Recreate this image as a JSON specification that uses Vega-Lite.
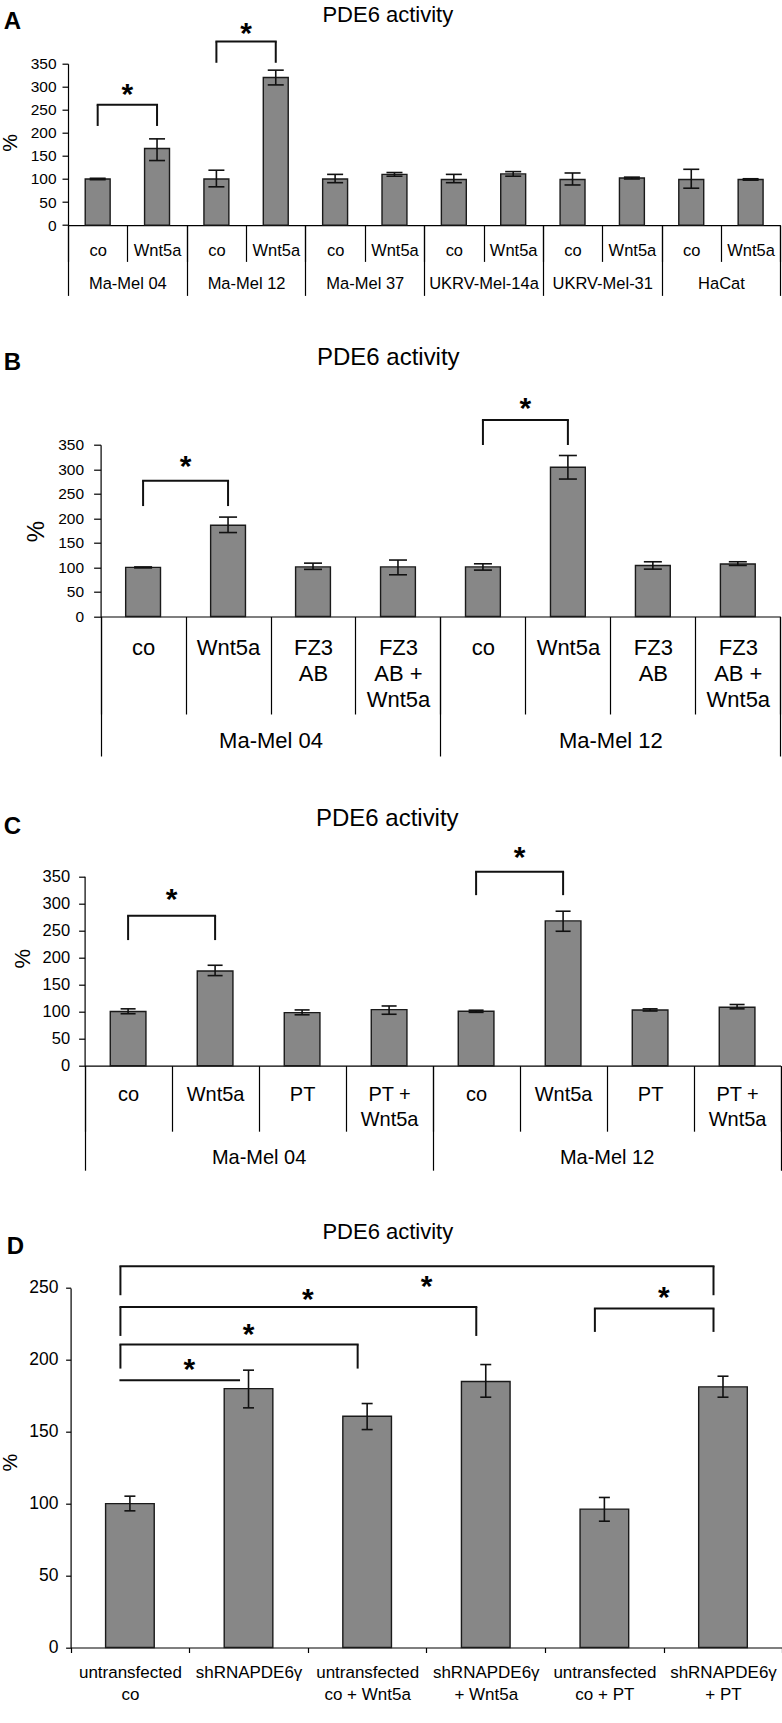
{
"$schema": "https://vega.github.io/schema/vega-lite/v6.json",
"background": "white",
"padding": {"left": 0, "top": 2.7, "right": 0, "bottom": 0},
"config": {
  "view": {"stroke": null},
  "font": "Liberation Sans",
  "axis": {"grid": false, "labelColor": "black", "titleColor": "black", "domainColor": "black", "tickColor": "black", "domainWidth": 1.2, "tickWidth": 1.2, "labelFont": "Liberation Sans", "titleFont": "Liberation Sans", "titleFontWeight": "normal"},
  "axisY": {"labelOverlap": false}
},
"datasets": {
  "barsA": [
    {"id": "Ma-Mel 04|co", "v": 100, "lo": 98.5, "hi": 101.5},
    {"id": "Ma-Mel 04|Wnt5a", "v": 166, "lo": 140, "hi": 187},
    {"id": "Ma-Mel 12|co", "v": 100, "lo": 83, "hi": 119},
    {"id": "Ma-Mel 12|Wnt5a", "v": 320, "lo": 304, "hi": 336},
    {"id": "Ma-Mel 37|co", "v": 100, "lo": 92, "hi": 110},
    {"id": "Ma-Mel 37|Wnt5a", "v": 110, "lo": 106, "hi": 114},
    {"id": "UKRV-Mel-14a|co", "v": 99, "lo": 92, "hi": 110},
    {"id": "UKRV-Mel-14a|Wnt5a", "v": 111, "lo": 106, "hi": 116},
    {"id": "UKRV-Mel-31|co", "v": 99, "lo": 87, "hi": 113},
    {"id": "UKRV-Mel-31|Wnt5a", "v": 102, "lo": 100, "hi": 104},
    {"id": "HaCat|co", "v": 99, "lo": 80, "hi": 121},
    {"id": "HaCat|Wnt5a", "v": 99, "lo": 97.5, "hi": 100.5}
  ],
  "brA": [
    {"from": "Ma-Mel 04|co", "to": "Ma-Mel 04|Wnt5a", "top": 261, "lo1": 215, "lo2": 215},
    {"from": "Ma-Mel 12|co", "to": "Ma-Mel 12|Wnt5a", "top": 398, "lo1": 352, "lo2": 352}
  ],
  "starsA": [
    {"g": "Ma-Mel 04", "y": 300},
    {"g": "Ma-Mel 12", "y": 432}
  ],
  "barsB": [
    {"id": "Ma-Mel 04|co", "v": 100, "lo": 99, "hi": 101},
    {"id": "Ma-Mel 04|Wnt5a", "v": 186, "lo": 171, "hi": 202.5},
    {"id": "Ma-Mel 04|FZ3 AB", "v": 101, "lo": 96, "hi": 108.7},
    {"id": "Ma-Mel 04|FZ3 AB + Wnt5a", "v": 101, "lo": 85, "hi": 115},
    {"id": "Ma-Mel 12|co", "v": 101, "lo": 94.5, "hi": 107.4},
    {"id": "Ma-Mel 12|Wnt5a", "v": 304, "lo": 280, "hi": 328},
    {"id": "Ma-Mel 12|FZ3 AB", "v": 104, "lo": 96.5, "hi": 111.5},
    {"id": "Ma-Mel 12|FZ3 AB + Wnt5a", "v": 107, "lo": 104, "hi": 111.5}
  ],
  "brB": [
    {"from": "Ma-Mel 04|co", "to": "Ma-Mel 04|Wnt5a", "top": 276.6, "lo1": 225, "lo2": 225},
    {"from": "Ma-Mel 12|co", "to": "Ma-Mel 12|Wnt5a", "top": 400.3, "lo1": 349.4, "lo2": 349.4}
  ],
  "starsB": [
    {"g": "Ma-Mel 04", "y": 320},
    {"g": "Ma-Mel 12", "y": 439.7}
  ],
  "barsC": [
    {"id": "Ma-Mel 04|co", "v": 100, "lo": 96, "hi": 105},
    {"id": "Ma-Mel 04|Wnt5a", "v": 175, "lo": 166.4, "hi": 185.5},
    {"id": "Ma-Mel 04|PT", "v": 98, "lo": 94, "hi": 103},
    {"id": "Ma-Mel 04|PT + Wnt5a", "v": 103.5, "lo": 95, "hi": 110.3},
    {"id": "Ma-Mel 12|co", "v": 100.5, "lo": 98.5, "hi": 102.5},
    {"id": "Ma-Mel 12|Wnt5a", "v": 267.4, "lo": 248.3, "hi": 285.3},
    {"id": "Ma-Mel 12|PT", "v": 103, "lo": 101, "hi": 105},
    {"id": "Ma-Mel 12|PT + Wnt5a", "v": 108, "lo": 105, "hi": 113}
  ],
  "brC": [
    {"from": "Ma-Mel 04|co", "to": "Ma-Mel 04|Wnt5a", "top": 276.9, "lo1": 232, "lo2": 232},
    {"from": "Ma-Mel 12|co", "to": "Ma-Mel 12|Wnt5a", "top": 358.2, "lo1": 315, "lo2": 315}
  ],
  "starsC": [
    {"g": "Ma-Mel 04", "y": 321},
    {"g": "Ma-Mel 12", "y": 398}
  ],
  "barsD": [
    {"id": "untransfected co", "v": 100, "lo": 95, "hi": 105.2},
    {"id": "shRNAPDE6γ", "v": 180, "lo": 166.6, "hi": 192.8},
    {"id": "untransfected co + Wnt5a", "v": 160.8, "lo": 151.5, "hi": 169.6},
    {"id": "shRNAPDE6γ + Wnt5a", "v": 184.9, "lo": 174, "hi": 196.7},
    {"id": "untransfected co + PT", "v": 96.2, "lo": 87.8, "hi": 104.3},
    {"id": "shRNAPDE6γ + PT", "v": 181.2, "lo": 174, "hi": 188.6}
  ],
  "brD": [
    {"from": "untransfected co", "to": "shRNAPDE6γ", "top": 185.8, "lo1": 185.8, "lo2": 185.8},
    {"from": "untransfected co", "to": "untransfected co + Wnt5a", "top": 210.6, "lo1": 193.9, "lo2": 193.9},
    {"from": "untransfected co", "to": "shRNAPDE6γ + Wnt5a", "top": 236.8, "lo1": 216.6, "lo2": 216.6},
    {"from": "untransfected co", "to": "shRNAPDE6γ + PT", "top": 265, "lo1": 244.9, "lo2": 244.9},
    {"from": "untransfected co + PT", "to": "shRNAPDE6γ + PT", "top": 235.6, "lo1": 219.4, "lo2": 219.4}
  ],
  "starsDedge": [
    {"id": "shRNAPDE6γ", "y": 198.6},
    {"id": "untransfected co + Wnt5a", "y": 247.2},
    {"id": "shRNAPDE6γ + Wnt5a", "y": 256.5},
    {"id": "shRNAPDE6γ + PT", "y": 248.4}
  ],
  "starsDmid": [
    {"id": "shRNAPDE6γ", "y": 222.9}
  ]
},
"spacing": 219,
"bounds": "flush",
"vconcat": [
{
  "width": 712.3, "height": 161.4,
  "resolve": {"scale": {"x": "independent"}},
  "layer": [
    {"layer": [
      {"data": {"name": "barsA"},
       "mark": {"type": "bar", "width": {"band": 0.42}, "fill": "#878787", "stroke": "#1a1a1a", "strokeWidth": 1.4, "opacity": 1},
       "encoding": {
         "x": {"field": "id", "type": "nominal", "scale": {"domain": ["Ma-Mel 04|co","Ma-Mel 04|Wnt5a","Ma-Mel 12|co","Ma-Mel 12|Wnt5a","Ma-Mel 37|co","Ma-Mel 37|Wnt5a","UKRV-Mel-14a|co","UKRV-Mel-14a|Wnt5a","UKRV-Mel-31|co","UKRV-Mel-31|Wnt5a","HaCat|co","HaCat|Wnt5a"], "range": [0, 712.3], "paddingInner": 0, "paddingOuter": 0},
               "axis": {"orient": "top", "domain": false, "ticks": false, "labels": false, "title": "PDE6 activity", "titleFontSize": 22, "titleX": 319.3, "titleY": -42.6, "titleAlign": "center", "titleBaseline": "alphabetic", "titleAngle": 0}},
         "y": {"field": "v", "type": "quantitative", "scale": {"domain": [0, 350], "nice": false},
               "axis": {"values": [0,50,100,150,200,250,300,350], "labelOverlap": false, "tickSize": 6, "labelPadding": 6, "labelFontSize": 15.5, "title": "%", "titleFontSize": 20, "titleAngle": 270, "titleBaseline": "bottom", "titleAlign": "center", "titleX": -47.5, "titleY": 78.7}}
       }},
      {"data": {"name": "brA"},
       "mark": {"type": "rule", "color": "#111", "strokeWidth": 2, "strokeCap": "square"},
       "encoding": {
         "x": {"field": "from", "type": "nominal", "scale": {"domain": ["Ma-Mel 04|co","Ma-Mel 04|Wnt5a","Ma-Mel 12|co","Ma-Mel 12|Wnt5a","Ma-Mel 37|co","Ma-Mel 37|Wnt5a","UKRV-Mel-14a|co","UKRV-Mel-14a|Wnt5a","UKRV-Mel-31|co","UKRV-Mel-31|Wnt5a","HaCat|co","HaCat|Wnt5a"]}},
         "x2": {"field": "to"},
         "y": {"field": "top", "type": "quantitative", "axis": {"values": [0,50,100,150,200,250,300,350], "labelOverlap": false, "tickSize": 6, "labelPadding": 6, "labelFontSize": 15.5}}
       }},
      {"data": {"name": "brA"},
       "mark": {"type": "rule", "color": "#111", "strokeWidth": 2},
       "encoding": {
         "x": {"field": "from", "type": "nominal"},
         "y": {"field": "lo1", "type": "quantitative", "axis": {"values": [0,50,100,150,200,250,300,350], "labelOverlap": false, "tickSize": 6, "labelPadding": 6, "labelFontSize": 15.5}},
         "y2": {"field": "top"}
       }},
      {"data": {"name": "brA"},
       "mark": {"type": "rule", "color": "#111", "strokeWidth": 2},
       "encoding": {
         "x": {"field": "to", "type": "nominal"},
         "y": {"field": "lo2", "type": "quantitative", "axis": {"values": [0,50,100,150,200,250,300,350], "labelOverlap": false, "tickSize": 6, "labelPadding": 6, "labelFontSize": 15.5}},
         "y2": {"field": "top"}
       }}
    ]},
    {"data": {"name": "barsA"},
     "encoding": {"x": {"field": "id", "type": "nominal", "scale": {"domain": ["Ma-Mel 04|co","Ma-Mel 04|Wnt5a","Ma-Mel 12|co","Ma-Mel 12|Wnt5a","Ma-Mel 37|co","Ma-Mel 37|Wnt5a","UKRV-Mel-14a|co","UKRV-Mel-14a|Wnt5a","UKRV-Mel-31|co","UKRV-Mel-31|Wnt5a","HaCat|co","HaCat|Wnt5a"], "range": [0, 712.3], "paddingInner": 0, "paddingOuter": 0},
            "axis": {"orient": "bottom", "title": null, "tickBand": "extent", "tickSize": 36.3, "labelPadding": -19, "labelFontSize": 16.5, "labelAngle": 0, "labelOverlap": false, "labelBound": false, "labelExpr": "isValid(datum.value) ? split(replace(replace(split(datum.value, '|')[1], 'FZ3 ', 'FZ3|'), ' + ', ' +|'), '|') : ''"}}},
     "layer": [
       {"mark": {"type": "rule", "color": "#111", "strokeWidth": 1.6}, "encoding": {"y": {"field": "lo", "type": "quantitative", "axis": {"values": [0,50,100,150,200,250,300,350], "labelOverlap": false, "tickSize": 6, "labelPadding": 6, "labelFontSize": 15.5}}, "y2": {"field": "hi"}}},
       {"mark": {"type": "tick", "orient": "horizontal", "size": 16, "thickness": 1.6, "color": "#111", "opacity": 1}, "encoding": {"y": {"field": "hi", "type": "quantitative", "axis": {"values": [0,50,100,150,200,250,300,350], "labelOverlap": false, "tickSize": 6, "labelPadding": 6, "labelFontSize": 15.5}}}},
       {"mark": {"type": "tick", "orient": "horizontal", "size": 16, "thickness": 1.6, "color": "#111", "opacity": 1}, "encoding": {"y": {"field": "lo", "type": "quantitative", "axis": {"values": [0,50,100,150,200,250,300,350], "labelOverlap": false, "tickSize": 6, "labelPadding": 6, "labelFontSize": 15.5}}}}
     ]},
    {"data": {"name": "starsA"},
     "mark": {"type": "text", "text": "*", "fontSize": 30, "fontWeight": "bold", "dy": 17, "baseline": "alphabetic", "align": "center", "color": "black"},
     "encoding": {
       "x": {"field": "g", "type": "nominal", "bandPosition": 0.5, "scale": {"domain": ["Ma-Mel 04","Ma-Mel 12","Ma-Mel 37","UKRV-Mel-14a","UKRV-Mel-31","HaCat"], "range": [0, 712.3], "paddingInner": 0, "paddingOuter": 0},
             "axis": {"orient": "bottom", "domain": false, "tickBand": "extent", "tickSize": 70.3, "labelPadding": -19.4, "labelFontSize": 16.5, "labelAngle": 0, "labelOverlap": false, "labelBound": false,
                      "title": "A", "titleFontSize": 24, "titleFontWeight": "bold", "titleX": -64.7, "titleY": -196.7, "titleAlign": "left", "titleBaseline": "alphabetic", "titleAngle": 0}},
       "y": {"field": "y", "type": "quantitative", "axis": {"values": [0,50,100,150,200,250,300,350], "labelOverlap": false, "tickSize": 6, "labelPadding": 6, "labelFontSize": 15.5}}
     }}
  ]
},
{
  "width": 712.3, "height": 171.8,
  "resolve": {"scale": {"x": "independent"}},
  "layer": [
    {"layer": [
      {"data": {"name": "barsB"},
       "mark": {"type": "bar", "width": {"band": 0.41}, "fill": "#878787", "stroke": "#1a1a1a", "strokeWidth": 1.4, "opacity": 1},
       "encoding": {
         "x": {"field": "id", "type": "nominal", "scale": {"domain": ["Ma-Mel 04|co","Ma-Mel 04|Wnt5a","Ma-Mel 04|FZ3 AB","Ma-Mel 04|FZ3 AB + Wnt5a","Ma-Mel 12|co","Ma-Mel 12|Wnt5a","Ma-Mel 12|FZ3 AB","Ma-Mel 12|FZ3 AB + Wnt5a"], "range": [32.6, 712.3], "paddingInner": 0, "paddingOuter": 0},
               "axis": {"orient": "top", "domain": false, "ticks": false, "labels": false, "title": "PDE6 activity", "titleFontSize": 24, "titleX": 319.8, "titleY": -79.7, "titleAlign": "center", "titleBaseline": "alphabetic", "titleAngle": 0}},
         "y": {"field": "v", "type": "quantitative", "scale": {"domain": [0, 350], "nice": false},
               "axis": {"offset": -32.6, "values": [0,50,100,150,200,250,300,350], "labelOverlap": false, "tickSize": 7, "labelPadding": 10, "labelFontSize": 15.5, "title": "%", "titleFontSize": 24, "titleAngle": 270, "titleBaseline": "bottom", "titleAlign": "center", "titleX": -52.6, "titleY": 86.3}}
       }},
      {"data": {"name": "brB"},
       "mark": {"type": "rule", "color": "#111", "strokeWidth": 2, "strokeCap": "square"},
       "encoding": {
         "x": {"field": "from", "type": "nominal", "scale": {"domain": ["Ma-Mel 04|co","Ma-Mel 04|Wnt5a","Ma-Mel 04|FZ3 AB","Ma-Mel 04|FZ3 AB + Wnt5a","Ma-Mel 12|co","Ma-Mel 12|Wnt5a","Ma-Mel 12|FZ3 AB","Ma-Mel 12|FZ3 AB + Wnt5a"]}},
         "x2": {"field": "to"},
         "y": {"field": "top", "type": "quantitative", "axis": {"offset": -32.6, "values": [0,50,100,150,200,250,300,350], "labelOverlap": false, "tickSize": 7, "labelPadding": 10, "labelFontSize": 15.5}}
       }},
      {"data": {"name": "brB"},
       "mark": {"type": "rule", "color": "#111", "strokeWidth": 2},
       "encoding": {
         "x": {"field": "from", "type": "nominal"},
         "y": {"field": "lo1", "type": "quantitative", "axis": {"offset": -32.6, "values": [0,50,100,150,200,250,300,350], "labelOverlap": false, "tickSize": 7, "labelPadding": 10, "labelFontSize": 15.5}},
         "y2": {"field": "top"}
       }},
      {"data": {"name": "brB"},
       "mark": {"type": "rule", "color": "#111", "strokeWidth": 2},
       "encoding": {
         "x": {"field": "to", "type": "nominal"},
         "y": {"field": "lo2", "type": "quantitative", "axis": {"offset": -32.6, "values": [0,50,100,150,200,250,300,350], "labelOverlap": false, "tickSize": 7, "labelPadding": 10, "labelFontSize": 15.5}},
         "y2": {"field": "top"}
       }}
    ]},
    {"data": {"name": "barsB"},
     "encoding": {"x": {"field": "id", "type": "nominal", "scale": {"domain": ["Ma-Mel 04|co","Ma-Mel 04|Wnt5a","Ma-Mel 04|FZ3 AB","Ma-Mel 04|FZ3 AB + Wnt5a","Ma-Mel 12|co","Ma-Mel 12|Wnt5a","Ma-Mel 12|FZ3 AB","Ma-Mel 12|FZ3 AB + Wnt5a"], "range": [32.6, 712.3], "paddingInner": 0, "paddingOuter": 0},
            "axis": {"orient": "bottom", "title": null, "tickBand": "extent", "tickSize": 97.5, "labelPadding": -76.4, "labelFontSize": 22, "labelLineHeight": 26, "labelAngle": 0, "labelOverlap": false, "labelBound": false, "labelExpr": "isValid(datum.value) ? split(replace(replace(split(datum.value, '|')[1], 'FZ3 ', 'FZ3|'), ' + ', ' +|'), '|') : ''"}}},
     "layer": [
       {"mark": {"type": "rule", "color": "#111", "strokeWidth": 1.6}, "encoding": {"y": {"field": "lo", "type": "quantitative", "axis": {"offset": -32.6, "values": [0,50,100,150,200,250,300,350], "labelOverlap": false, "tickSize": 7, "labelPadding": 10, "labelFontSize": 15.5}}, "y2": {"field": "hi"}}},
       {"mark": {"type": "tick", "orient": "horizontal", "size": 18, "thickness": 1.6, "color": "#111", "opacity": 1}, "encoding": {"y": {"field": "hi", "type": "quantitative", "axis": {"offset": -32.6, "values": [0,50,100,150,200,250,300,350], "labelOverlap": false, "tickSize": 7, "labelPadding": 10, "labelFontSize": 15.5}}}},
       {"mark": {"type": "tick", "orient": "horizontal", "size": 18, "thickness": 1.6, "color": "#111", "opacity": 1}, "encoding": {"y": {"field": "lo", "type": "quantitative", "axis": {"offset": -32.6, "values": [0,50,100,150,200,250,300,350], "labelOverlap": false, "tickSize": 7, "labelPadding": 10, "labelFontSize": 15.5}}}}
     ]},
    {"data": {"name": "starsB"},
     "mark": {"type": "text", "text": "*", "fontSize": 30, "fontWeight": "bold", "dy": 17, "baseline": "alphabetic", "align": "center", "color": "black"},
     "encoding": {
       "x": {"field": "g", "type": "nominal", "bandPosition": 0.25, "scale": {"domain": ["Ma-Mel 04","Ma-Mel 12"], "range": [32.6, 712.3], "paddingInner": 0, "paddingOuter": 0},
             "axis": {"orient": "bottom", "domain": false, "tickBand": "extent", "tickSize": 139.5, "labelPadding": -25.1, "labelFontSize": 22, "labelAngle": 0, "labelOverlap": false, "labelBound": false,
                      "title": "B", "titleFontSize": 24, "titleFontWeight": "bold", "titleX": -64.7, "titleY": -246.5, "titleAlign": "left", "titleBaseline": "alphabetic", "titleAngle": 0}},
       "y": {"field": "y", "type": "quantitative", "axis": {"offset": -32.6, "values": [0,50,100,150,200,250,300,350], "labelOverlap": false, "tickSize": 7, "labelPadding": 10, "labelFontSize": 15.5}}
     }}
  ]
},
{
  "width": 712.6, "height": 230,
  "resolve": {"scale": {"x": "independent"}},
  "layer": [
    {"layer": [
      {"data": {"name": "barsC"},
       "mark": {"type": "bar", "width": {"band": 0.41}, "fill": "#878787", "stroke": "#1a1a1a", "strokeWidth": 1.4, "opacity": 1},
       "encoding": {
         "x": {"field": "id", "type": "nominal", "scale": {"domain": ["Ma-Mel 04|co","Ma-Mel 04|Wnt5a","Ma-Mel 04|PT","Ma-Mel 04|PT + Wnt5a","Ma-Mel 12|co","Ma-Mel 12|Wnt5a","Ma-Mel 12|PT","Ma-Mel 12|PT + Wnt5a"], "range": [16.6, 712.6], "paddingInner": 0, "paddingOuter": 0},
               "axis": {"orient": "top", "domain": false, "ticks": false, "labels": false, "title": "PDE6 activity", "titleFontSize": 24, "titleX": 318.8, "titleY": -10.5, "titleAlign": "center", "titleBaseline": "alphabetic", "titleAngle": 0}},
         "y": {"field": "v", "type": "quantitative", "scale": {"domain": [0, 350], "nice": false, "range": [230, 40.5]},
               "axis": {"offset": -16.6, "values": [0,50,100,150,200,250,300,350], "labelOverlap": false, "tickSize": 6, "labelPadding": 9, "labelFontSize": 16.5, "title": "%", "titleFontSize": 22, "titleAngle": 270, "titleBaseline": "bottom", "titleAlign": "center", "titleX": -50.4, "titleY": 122.5}}
       }},
      {"data": {"name": "brC"},
       "mark": {"type": "rule", "color": "#111", "strokeWidth": 2, "strokeCap": "square"},
       "encoding": {
         "x": {"field": "from", "type": "nominal", "scale": {"domain": ["Ma-Mel 04|co","Ma-Mel 04|Wnt5a","Ma-Mel 04|PT","Ma-Mel 04|PT + Wnt5a","Ma-Mel 12|co","Ma-Mel 12|Wnt5a","Ma-Mel 12|PT","Ma-Mel 12|PT + Wnt5a"]}},
         "x2": {"field": "to"},
         "y": {"field": "top", "type": "quantitative", "axis": {"offset": -16.6, "values": [0,50,100,150,200,250,300,350], "labelOverlap": false, "tickSize": 6, "labelPadding": 9, "labelFontSize": 16.5}}
       }},
      {"data": {"name": "brC"},
       "mark": {"type": "rule", "color": "#111", "strokeWidth": 2},
       "encoding": {
         "x": {"field": "from", "type": "nominal"},
         "y": {"field": "lo1", "type": "quantitative", "axis": {"offset": -16.6, "values": [0,50,100,150,200,250,300,350], "labelOverlap": false, "tickSize": 6, "labelPadding": 9, "labelFontSize": 16.5}},
         "y2": {"field": "top"}
       }},
      {"data": {"name": "brC"},
       "mark": {"type": "rule", "color": "#111", "strokeWidth": 2},
       "encoding": {
         "x": {"field": "to", "type": "nominal"},
         "y": {"field": "lo2", "type": "quantitative", "axis": {"offset": -16.6, "values": [0,50,100,150,200,250,300,350], "labelOverlap": false, "tickSize": 6, "labelPadding": 9, "labelFontSize": 16.5}},
         "y2": {"field": "top"}
       }}
    ]},
    {"data": {"name": "barsC"},
     "encoding": {"x": {"field": "id", "type": "nominal", "scale": {"domain": ["Ma-Mel 04|co","Ma-Mel 04|Wnt5a","Ma-Mel 04|PT","Ma-Mel 04|PT + Wnt5a","Ma-Mel 12|co","Ma-Mel 12|Wnt5a","Ma-Mel 12|PT","Ma-Mel 12|PT + Wnt5a"], "range": [16.6, 712.6], "paddingInner": 0, "paddingOuter": 0},
            "axis": {"orient": "bottom", "title": null, "tickBand": "extent", "tickSize": 65.5, "labelPadding": -46.8, "labelFontSize": 20, "labelLineHeight": 25, "labelAngle": 0, "labelOverlap": false, "labelBound": false, "labelExpr": "isValid(datum.value) ? split(replace(replace(split(datum.value, '|')[1], 'FZ3 ', 'FZ3|'), ' + ', ' +|'), '|') : ''"}}},
     "layer": [
       {"mark": {"type": "rule", "color": "#111", "strokeWidth": 1.6}, "encoding": {"y": {"field": "lo", "type": "quantitative", "axis": {"offset": -16.6, "values": [0,50,100,150,200,250,300,350], "labelOverlap": false, "tickSize": 6, "labelPadding": 9, "labelFontSize": 16.5}}, "y2": {"field": "hi"}}},
       {"mark": {"type": "tick", "orient": "horizontal", "size": 15, "thickness": 1.6, "color": "#111", "opacity": 1}, "encoding": {"y": {"field": "hi", "type": "quantitative", "axis": {"offset": -16.6, "values": [0,50,100,150,200,250,300,350], "labelOverlap": false, "tickSize": 6, "labelPadding": 9, "labelFontSize": 16.5}}}},
       {"mark": {"type": "tick", "orient": "horizontal", "size": 15, "thickness": 1.6, "color": "#111", "opacity": 1}, "encoding": {"y": {"field": "lo", "type": "quantitative", "axis": {"offset": -16.6, "values": [0,50,100,150,200,250,300,350], "labelOverlap": false, "tickSize": 6, "labelPadding": 9, "labelFontSize": 16.5}}}}
     ]},
    {"data": {"name": "starsC"},
     "mark": {"type": "text", "text": "*", "fontSize": 30, "fontWeight": "bold", "dy": 17, "baseline": "alphabetic", "align": "center", "color": "black"},
     "encoding": {
       "x": {"field": "g", "type": "nominal", "bandPosition": 0.25, "scale": {"domain": ["Ma-Mel 04","Ma-Mel 12"], "range": [16.6, 712.6], "paddingInner": 0, "paddingOuter": 0},
             "axis": {"orient": "bottom", "domain": false, "tickBand": "extent", "tickSize": 104.5, "labelPadding": -22.5, "labelFontSize": 20, "labelAngle": 0, "labelOverlap": false, "labelBound": false,
                      "title": "C", "titleFontSize": 24, "titleFontWeight": "bold", "titleX": -64.7, "titleY": -232.5, "titleAlign": "left", "titleBaseline": "alphabetic", "titleAngle": 0}},
       "y": {"field": "y", "type": "quantitative", "axis": {"offset": -16.6, "values": [0,50,100,150,200,250,300,350], "labelOverlap": false, "tickSize": 6, "labelPadding": 9, "labelFontSize": 16.5}}
     }}
  ]
},
{
  "width": 714.3, "height": 362.8,
  "resolve": {"scale": {"x": "independent"}},
  "layer": [
    {"layer": [
      {"data": {"name": "barsD"},
       "mark": {"type": "bar", "width": {"band": 0.41}, "fill": "#878787", "stroke": "#1a1a1a", "strokeWidth": 1.4, "opacity": 1},
       "encoding": {
         "x": {"field": "id", "type": "nominal", "scale": {"domain": ["untransfected co","shRNAPDE6γ","untransfected co + Wnt5a","shRNAPDE6γ + Wnt5a","untransfected co + PT","shRNAPDE6γ + PT"], "range": [2.6, 714.3], "paddingInner": 0, "paddingOuter": 0},
               "axis": {"orient": "top", "domain": false, "ticks": false, "labels": false, "title": "PDE6 activity", "titleFontSize": 22, "titleX": 319.3, "titleY": -46.2, "titleAlign": "center", "titleBaseline": "alphabetic", "titleAngle": 0}},
         "y": {"field": "v", "type": "quantitative", "scale": {"domain": [0, 250], "nice": false, "range": [362.8, 3.2]},
               "axis": {"offset": -2.6, "values": [0,50,100,150,200,250], "labelOverlap": false, "tickSize": 5, "labelPadding": 7.6, "labelFontSize": 17.5, "title": "%", "titleFontSize": 20, "titleAngle": 270, "titleBaseline": "bottom", "titleAlign": "center", "titleX": -50.1, "titleY": 177.5}}
       }},
      {"data": {"name": "brD"},
       "mark": {"type": "rule", "color": "#111", "strokeWidth": 2, "strokeCap": "square"},
       "encoding": {
         "x": {"field": "from", "type": "nominal", "bandPosition": 0.42, "scale": {"domain": ["untransfected co","shRNAPDE6γ","untransfected co + Wnt5a","shRNAPDE6γ + Wnt5a","untransfected co + PT","shRNAPDE6γ + PT"]}},
         "x2": {"field": "to", "bandPosition": 0.42},
         "y": {"field": "top", "type": "quantitative", "axis": {"offset": -2.6, "values": [0,50,100,150,200,250], "labelOverlap": false, "tickSize": 5, "labelPadding": 7.6, "labelFontSize": 17.5}}
       }},
      {"data": {"name": "brD"},
       "mark": {"type": "rule", "color": "#111", "strokeWidth": 2},
       "encoding": {
         "x": {"field": "from", "type": "nominal", "bandPosition": 0.42},
         "y": {"field": "lo1", "type": "quantitative", "axis": {"offset": -2.6, "values": [0,50,100,150,200,250], "labelOverlap": false, "tickSize": 5, "labelPadding": 7.6, "labelFontSize": 17.5}},
         "y2": {"field": "top"}
       }},
      {"data": {"name": "brD"},
       "mark": {"type": "rule", "color": "#111", "strokeWidth": 2},
       "encoding": {
         "x": {"field": "to", "type": "nominal", "bandPosition": 0.42},
         "y": {"field": "lo2", "type": "quantitative", "axis": {"offset": -2.6, "values": [0,50,100,150,200,250], "labelOverlap": false, "tickSize": 5, "labelPadding": 7.6, "labelFontSize": 17.5}},
         "y2": {"field": "top"}
       }}
    ]},
    {"data": {"name": "barsD"},
     "encoding": {"x": {"field": "id", "type": "nominal", "scale": {"domain": ["untransfected co","shRNAPDE6γ","untransfected co + Wnt5a","shRNAPDE6γ + Wnt5a","untransfected co + PT","shRNAPDE6γ + PT"], "range": [2.6, 714.3], "paddingInner": 0, "paddingOuter": 0},
            "axis": {"orient": "bottom", "title": null, "tickBand": "extent", "tickSize": 5, "labelPadding": 12, "labelFontSize": 17, "labelLineHeight": 21.6, "labelAngle": 0, "labelOverlap": false, "labelBound": false, "labelExpr": "isValid(datum.value) ? split(replace(replace(datum.value, 'untransfected ', 'untransfected|'), 'γ ', 'γ|'), '|') : ''"}}},
     "layer": [
       {"mark": {"type": "rule", "color": "#111", "strokeWidth": 1.6}, "encoding": {"y": {"field": "lo", "type": "quantitative", "axis": {"offset": -2.6, "values": [0,50,100,150,200,250], "labelOverlap": false, "tickSize": 5, "labelPadding": 7.6, "labelFontSize": 17.5}}, "y2": {"field": "hi"}}},
       {"mark": {"type": "tick", "orient": "horizontal", "size": 11, "thickness": 1.6, "color": "#111", "opacity": 1}, "encoding": {"y": {"field": "hi", "type": "quantitative", "axis": {"offset": -2.6, "values": [0,50,100,150,200,250], "labelOverlap": false, "tickSize": 5, "labelPadding": 7.6, "labelFontSize": 17.5}}}},
       {"mark": {"type": "tick", "orient": "horizontal", "size": 11, "thickness": 1.6, "color": "#111", "opacity": 1}, "encoding": {"y": {"field": "lo", "type": "quantitative", "axis": {"offset": -2.6, "values": [0,50,100,150,200,250], "labelOverlap": false, "tickSize": 5, "labelPadding": 7.6, "labelFontSize": 17.5}}}}
     ]},
    {"data": {"name": "starsDedge"},
     "mark": {"type": "text", "text": "*", "fontSize": 30, "fontWeight": "bold", "dy": 17, "baseline": "alphabetic", "align": "center", "color": "black"},
     "encoding": {
       "x": {"field": "id", "type": "nominal", "bandPosition": 0.001, "scale": {"type": "band", "domain": ["untransfected co","shRNAPDE6γ","untransfected co + Wnt5a","shRNAPDE6γ + Wnt5a","untransfected co + PT","shRNAPDE6γ + PT"], "range": [2.6, 714.3], "paddingInner": 0, "paddingOuter": 0},
             "axis": {"orient": "top", "domain": false, "ticks": false, "labels": false, "title": "D", "titleFontSize": 24, "titleFontWeight": "bold", "titleX": -61.7, "titleY": -31.5, "titleAlign": "left", "titleBaseline": "alphabetic", "titleAngle": 0}},
       "y": {"field": "y", "type": "quantitative", "axis": {"offset": -2.6, "values": [0,50,100,150,200,250], "labelOverlap": false, "tickSize": 5, "labelPadding": 7.6, "labelFontSize": 17.5}}
     }},
    {"data": {"name": "starsDmid"},
     "mark": {"type": "text", "text": "*", "fontSize": 30, "fontWeight": "bold", "dy": 17, "baseline": "alphabetic", "align": "center", "color": "black"},
     "encoding": {
       "x": {"field": "id", "type": "nominal", "bandPosition": 0.5, "scale": {"domain": ["untransfected co","shRNAPDE6γ","untransfected co + Wnt5a","shRNAPDE6γ + Wnt5a","untransfected co + PT","shRNAPDE6γ + PT"], "range": [2.6, 714.3], "paddingInner": 0, "paddingOuter": 0}, "axis": null},
       "y": {"field": "y", "type": "quantitative", "axis": {"offset": -2.6, "values": [0,50,100,150,200,250], "labelOverlap": false, "tickSize": 5, "labelPadding": 7.6, "labelFontSize": 17.5}}
     }}
  ]
}
]
}
